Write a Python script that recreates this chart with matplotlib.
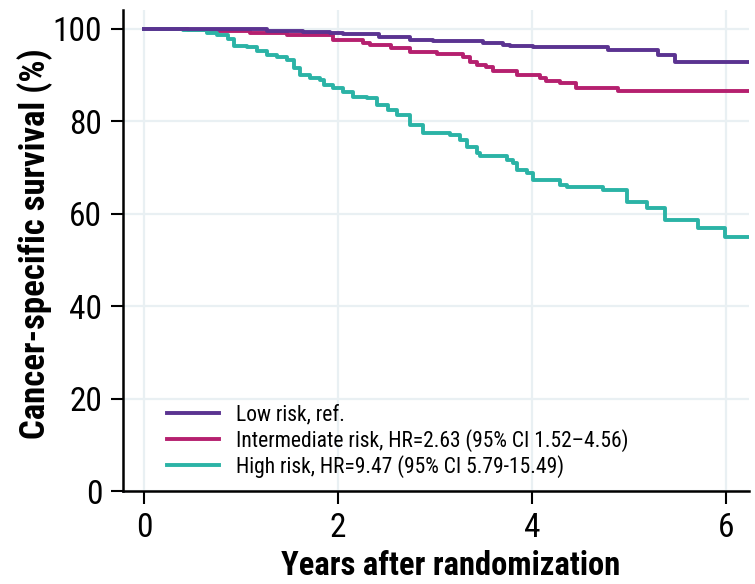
import numpy as np
import matplotlib
matplotlib.use('Agg')
from matplotlib import pyplot as plt

# condensed typeface, like the original
plt.rcParams['font.family'] = ['Roboto Condensed', 'DejaVu Sans']

# Kaplan-Meier step data (years, survival %)
low_t = [0, 1.27, 1.64, 1.92, 2.05, 2.42, 2.74, 2.98, 3.49, 3.70, 3.77, 4.01, 4.78, 5.30, 5.48, 6.24]
low_s = [100, 99.6, 99.35, 99.1, 98.85, 98.2, 97.6, 97.3, 96.9, 96.5, 96.2, 96.0, 95.5, 94.4, 92.9, 92.9]

mid_t = [0, 0.45, 0.70, 1.09, 1.47, 1.95, 2.26, 2.33, 2.55, 2.74, 3.02, 3.29, 3.36, 3.43, 3.53, 3.60,
         3.85, 4.08, 4.15, 4.29, 4.46, 4.89, 6.24]
mid_s = [100, 99.8, 99.5, 99.1, 98.6, 97.6, 96.9, 96.5, 95.8, 95.1, 94.6, 94.0, 92.9, 92.2, 91.8, 90.8,
         90.0, 89.3, 88.8, 88.2, 87.3, 86.6, 86.6]

high_t = [0, 0.40, 0.65, 0.75, 0.86, 0.92, 1.06, 1.16, 1.27, 1.37, 1.47, 1.54, 1.61, 1.71, 1.81, 1.85,
          1.95, 2.05, 2.15, 2.30, 2.40, 2.51, 2.61, 2.74, 2.88, 3.15, 3.26, 3.33, 3.43, 3.46, 3.74,
          3.80, 3.85, 3.95, 4.01, 4.29, 4.36, 4.39, 4.73, 4.98, 5.19, 5.37, 5.71, 5.99, 6.24]
high_s = [100, 99.7, 99.2, 98.7, 97.8, 96.2, 96.0, 95.3, 94.4, 93.9, 93.3, 91.6, 90.0, 89.4, 89.0, 87.9,
          87.2, 86.4, 85.3, 85.0, 83.5, 82.5, 81.4, 79.2, 77.5, 77.1, 76.0, 74.5, 73.1, 72.4, 71.6,
          71.0, 69.5, 68.8, 67.3, 66.2, 65.9, 65.9, 65.2, 62.6, 61.2, 58.7, 57.0, 54.9, 54.9]

labels = ['Low risk, ref.',
          'Intermediate risk, HR=2.63 (95% CI 1.52\u20134.56)',
          'High risk, HR=9.47 (95% CI 5.79-15.49)']

purple = '#5b3391'
magenta = '#b5206f'
teal = '#2bb3a6'
grid_col = '#e9f0f3'

fig = plt.figure(figsize=(7.55, 5.84), dpi=100, facecolor='white')
ax = fig.add_axes([0.163, 0.159, 0.829, 0.824])

ax.plot(low_t, low_s, drawstyle='steps-post', color=purple, lw=2.8, label=labels[0], zorder=4)
ax.plot(mid_t, mid_s, drawstyle='steps-post', color=magenta, lw=2.8, label=labels[1], zorder=3)
ax.plot(high_t, high_s, drawstyle='steps-post', color=teal, lw=2.8, label=labels[2], zorder=3)

ax.set_xlim(-0.22, 6.24)
ax.set_ylim(0, 104.1)
ax.set_xticks([0, 2, 4, 6])
ax.set_yticks([0, 20, 40, 60, 80, 100])

ax.grid(True, color=grid_col, lw=1.6, zorder=0)
ax.set_axisbelow(True)

for s in ['top', 'right']:
    ax.spines[s].set_visible(False)
for s in ['left', 'bottom']:
    ax.spines[s].set_linewidth(1.8)

ax.tick_params(axis='both', direction='out', length=9, width=1.5, labelsize=24, pad=6)

ax.set_ylabel('Cancer-specific survival (%)', fontsize=25, fontweight='bold')
ax.set_xlabel('Years after randomization', fontsize=23.5, fontweight='bold')
ax.yaxis.set_label_coords(-0.112, 0.515)
ax.xaxis.set_label_coords(0.524, -0.122)

ax.legend(loc='upper left', bbox_to_anchor=(0.07, 0.18), frameon=False, fontsize=15.5,
          handlelength=2.4, handletextpad=0.8, labelspacing=0.15, borderpad=0, borderaxespad=0)

plt.savefig('out.png', dpi=100)
